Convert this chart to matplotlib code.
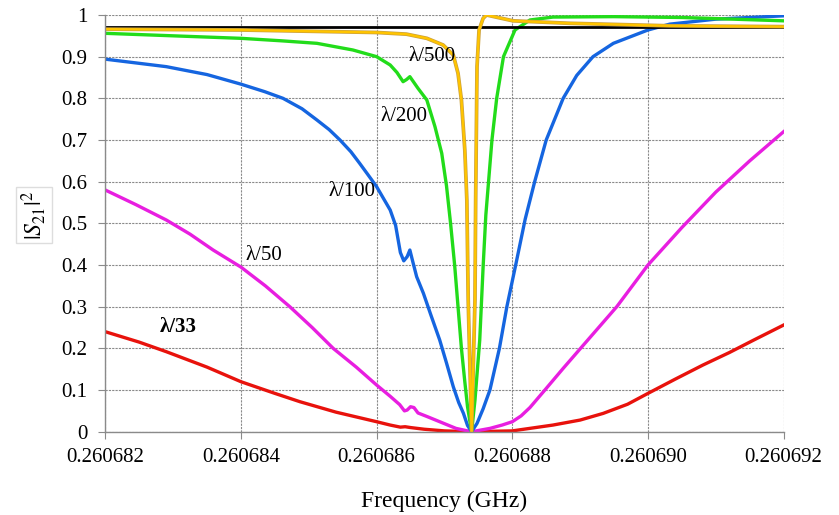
import numpy as np
import matplotlib.pyplot as plt
import matplotlib.patheffects as pe

plt.rcParams['font.family'] = ['Liberation Serif', 'DejaVu Serif']
plt.rcParams['mathtext.fontset'] = 'stix'

# frequency offsets in kHz from 0.260682 GHz, |S21|^2
f0 = 0.260682
red_x = [0, 0.5, 0.9, 1.5, 2.0, 2.5, 2.87, 3.4, 4.0, 4.2, 4.35, 4.42, 4.5, 4.7, 5.0, 5.4,
         6.0, 6.6, 7.0, 7.34, 7.7, 8.0, 8.4, 8.81, 9.2, 9.56, 10]
red_y = [0.24, 0.215, 0.192, 0.155, 0.12, 0.092, 0.072, 0.047, 0.024, 0.016, 0.011, 0.012, 0.010, 0.006, 0.002, 0.0,
         0.002, 0.016, 0.028, 0.044, 0.066, 0.092, 0.126, 0.16, 0.19, 0.22, 0.256]

mag_x = [0, 0.45, 0.9, 1.25, 1.59, 2.0, 2.36, 2.72, 3.05, 3.36, 3.7, 4.0, 4.2, 4.34, 4.41, 4.45, 4.50, 4.55, 4.61,
         4.75, 4.93, 5.17, 5.40, 5.67, 5.85, 6.0, 6.13, 6.26, 6.48, 6.75, 7.07, 7.54, 8.0, 8.5, 9.0, 9.5, 10]
mag_y = [0.58, 0.545, 0.508, 0.474, 0.436, 0.395, 0.35, 0.30, 0.25, 0.20, 0.155, 0.112, 0.085, 0.065, 0.05, 0.052, 0.06, 0.058, 0.045,
         0.036, 0.024, 0.008, 0.0, 0.008, 0.016, 0.024, 0.038, 0.058, 0.10, 0.152, 0.212, 0.30, 0.40, 0.49, 0.575, 0.65, 0.72]

blue_x = [0, 0.9, 1.5, 2.0, 2.35, 2.62, 2.9, 3.12, 3.3, 3.46, 3.62, 3.75, 3.88, 4.0, 4.1, 4.2, 4.28, 4.35, 4.40, 4.45,
          4.49, 4.53, 4.59, 4.69, 4.8, 4.93, 5.03, 5.13, 5.21, 5.28, 5.34, 5.40, 5.48, 5.57, 5.67, 5.81, 5.92, 6.05,
          6.19, 6.33, 6.50, 6.75, 6.95, 7.19, 7.49, 8.0, 8.32, 9.0, 10]
blue_y = [0.894, 0.876, 0.857, 0.834, 0.816, 0.80, 0.775, 0.748, 0.725, 0.70, 0.672, 0.644, 0.615, 0.588, 0.56, 0.532, 0.495, 0.43, 0.41, 0.42,
          0.436, 0.41, 0.372, 0.332, 0.28, 0.22, 0.165, 0.108, 0.07, 0.044, 0.015, 0.0, 0.02, 0.055, 0.10, 0.20, 0.30, 0.40,
          0.51, 0.60, 0.70, 0.80, 0.855, 0.90, 0.932, 0.964, 0.978, 0.99, 0.998]

green_x = [0, 1.0, 2.0, 2.6, 3.12, 3.65, 4.0, 4.2, 4.30, 4.39, 4.44, 4.49, 4.55, 4.61, 4.74, 4.86, 4.96, 5.03, 5.09,
           5.15, 5.20, 5.25, 5.30, 5.34, 5.40, 5.45, 5.52, 5.57, 5.61, 5.65, 5.70, 5.77, 5.87, 6.04, 6.26, 6.6, 7.5, 8.5, 10]
green_y = [0.956, 0.95, 0.944, 0.938, 0.932, 0.916, 0.90, 0.88, 0.862, 0.84, 0.845, 0.852, 0.838, 0.824, 0.796, 0.732, 0.668, 0.59, 0.50,
           0.40, 0.30, 0.20, 0.12, 0.06, 0.0, 0.076, 0.22, 0.396, 0.52, 0.60, 0.70, 0.80, 0.90, 0.964, 0.988, 0.995, 0.996, 0.994, 0.986]

yel_x = [0, 2.0, 4.0, 4.44, 4.74, 4.98, 5.13, 5.20, 5.25, 5.30, 5.33, 5.35, 5.40, 5.45, 5.46, 5.47, 5.48, 5.51, 5.57,
         5.62, 6.01, 6.85, 8.32, 10]
yel_y = [0.966, 0.964, 0.958, 0.954, 0.944, 0.928, 0.904, 0.86, 0.796, 0.676, 0.556, 0.316, 0.0, 0.316, 0.556, 0.716, 0.876, 0.964, 0.992,
         1.0, 0.986, 0.98, 0.974, 0.972]

black_x = [0, 10]
black_y = [0.970, 0.970]

xticks = [0, 2, 4, 6, 8, 10]


def freq(x):
    return f0 + np.array(x) * 1e-6


fig = plt.figure(figsize=(8.39, 5.15), dpi=100)
ax = fig.add_axes([0.1255, 0.1617, 0.8085, 0.8092])

ax.plot(freq(red_x), red_y, color='#E8120C', lw=2.4)
ax.plot(freq(mag_x), mag_y, color='#E81EE0', lw=2.4)
ax.plot(freq(blue_x), blue_y, color='#1565E0', lw=2.4)
ax.plot(freq(green_x), green_y, color='#22DC1A', lw=2.4)
ax.plot(freq(black_x), black_y, color='black', lw=2.0)
ax.plot(freq(yel_x), yel_y, color='#FFC400', lw=1.7,
        path_effects=[pe.Stroke(linewidth=2.7, foreground='#C9A040'), pe.Normal()])

ax.set_xlim(f0, f0 + 10e-6)
ax.set_ylim(0, 1)
ax.set_xticks(freq(xticks))
ax.set_xticklabels(['%.6f' % v for v in freq(xticks)])
ax.set_yticks(np.arange(0, 1.01, 0.1))
ax.set_yticklabels(['0'] + ['%.1f' % v for v in np.arange(0.1, 0.95, 0.1)] + ['1'])

ax.grid(True, color='#8a8a8a', linestyle=(0, (2, 1)), lw=0.8)
for s in ['top', 'right']:
    ax.spines[s].set_visible(False)
for s in ['left', 'bottom']:
    ax.spines[s].set_color('#8a8a8a')
    ax.spines[s].set_linewidth(1.0)
ax.tick_params(axis='both', colors='#8a8a8a', labelcolor='black', labelsize=15, length=5, direction='out')
ax.tick_params(axis='y', pad=8)
ax.tick_params(axis='x', pad=7)

ax.set_xlabel('Frequency (GHz)', fontsize=17, labelpad=17)
fig.text(0.0405, 0.582, r'$|S_{21}|^2$', rotation=90, fontsize=17, ha='center', va='center',
         bbox=dict(boxstyle='square,pad=0.15', facecolor='white', edgecolor='#dddddd'))

ax.text(freq(4.81), 0.90, 'λ/500', fontsize=15, ha='center', va='center')
ax.text(freq(4.41), 0.756, 'λ/200', fontsize=15, ha='center', va='center')
ax.text(freq(3.64), 0.576, 'λ/100', fontsize=15, ha='center', va='center')
ax.text(freq(2.34), 0.424, 'λ/50', fontsize=15, ha='center', va='center')
ax.text(freq(1.07), 0.251, 'λ/33', fontsize=15, ha='center', va='center', fontweight='bold')

fig.savefig('out.png', dpi=100)
